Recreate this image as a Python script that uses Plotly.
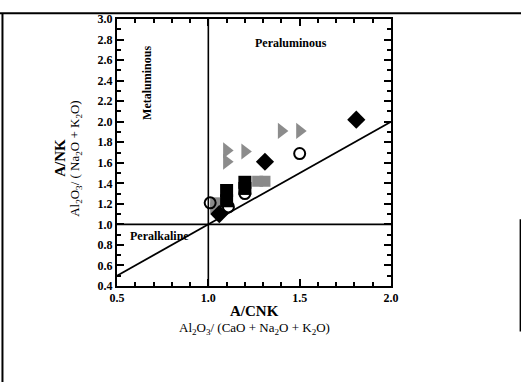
import plotly.graph_objects as go

# A/CNK vs A/NK values for each sample group
diamond_acnk = [1.06, 1.31, 1.81]
diamond_ank = [1.10, 1.61, 2.02]

triangle_acnk = [1.10, 1.10, 1.20, 1.40, 1.50]
triangle_ank = [1.72, 1.61, 1.71, 1.91, 1.91]

circle_acnk = [1.01, 1.50, 1.20, 1.11]
circle_ank = [1.21, 1.69, 1.30, 1.17]

square_acnk = [1.10, 1.10, 1.20, 1.20]
square_ank = [1.33, 1.23, 1.41, 1.35]

gray_sq_acnk = [1.04, 1.04, 1.27, 1.31]
gray_sq_ank = [1.21, 1.16, 1.42, 1.42]

# Field boundaries
x_range = [0.5, 2.0]
y_range = [0.4, 3.0]

SERIF = "Liberation Serif"

fig = go.Figure()

# boundary lines: A/CNK = 1, A/NK = 1 and A/NK = A/CNK
fig.add_trace(go.Scatter(x=[1.0, 1.0], y=y_range, mode="lines",
                         line=dict(color="black", width=1.6), hoverinfo="skip"))
fig.add_trace(go.Scatter(x=x_range, y=[1.0, 1.0], mode="lines",
                         line=dict(color="black", width=1.6), hoverinfo="skip"))
fig.add_trace(go.Scatter(x=x_range, y=x_range, mode="lines",
                         line=dict(color="black", width=1.8), hoverinfo="skip"))

fig.add_trace(go.Scatter(x=triangle_acnk, y=triangle_ank, mode="markers",
                         marker=dict(symbol="triangle-right", size=14, color="#8c8c8c",
                                     line=dict(width=0))))
fig.add_trace(go.Scatter(x=gray_sq_acnk, y=gray_sq_ank, mode="markers",
                         marker=dict(symbol="square", size=11, color="#8a8a8a",
                                     line=dict(width=0))))
fig.add_trace(go.Scatter(x=circle_acnk, y=circle_ank, mode="markers",
                         marker=dict(symbol="circle-open", size=11, color="black",
                                     line=dict(width=2))))
fig.add_trace(go.Scatter(x=square_acnk, y=square_ank, mode="markers",
                         marker=dict(symbol="square", size=13, color="black")))
fig.add_trace(go.Scatter(x=diamond_acnk, y=diamond_ank, mode="markers",
                         marker=dict(symbol="diamond", size=14, color="black")))

axis_common = dict(
    showline=True, linecolor="black", linewidth=2, mirror="ticks",
    ticks="inside", ticklen=7, tickwidth=2, tickcolor="black",
    showgrid=False, zeroline=False, tickformat=".1f",
    tickfont=dict(family=SERIF, size=12, color="black", weight="bold"),
)

fig.update_xaxes(range=x_range, dtick=0.5, tick0=0.5,
                 minor=dict(ticks="inside", dtick=0.1, ticklen=4, tickwidth=1.5,
                            tickcolor="black", showgrid=False),
                 **axis_common)
fig.update_yaxes(range=y_range, dtick=0.2, tick0=0.4,
                 minor=dict(ticks="inside", dtick=0.1, ticklen=4, tickwidth=1.5,
                            tickcolor="black", showgrid=False),
                 **axis_common)

bold = dict(family=SERIF, size=12, color="black")
annotations = [
    dict(x=1.45, y=2.77, xref="x", yref="y", text="<b>Peraluminous</b>",
         showarrow=False, font=bold),
    dict(x=0.66, y=2.38, xref="x", yref="y", text="<b>Metaluminous</b>",
         showarrow=False, textangle=-90, font=bold),
    dict(x=0.73, y=0.89, xref="x", yref="y", text="<b>Peralkaline</b>",
         showarrow=False, font=bold),
    dict(x=0.5, y=-0.13, xref="paper", yref="paper", text="<b>A/CNK</b>",
         showarrow=False, font=dict(family=SERIF, size=15, color="black")),
    dict(x=0.5, y=-0.2, xref="paper", yref="paper",
         text="Al<sub>2</sub>O<sub>3</sub>/ (CaO + Na<sub>2</sub>O + K<sub>2</sub>O)",
         showarrow=False, font=dict(family=SERIF, size=13, color="black")),
    dict(x=-0.245, y=0.48, xref="paper", yref="paper", text="<b>A/NK</b>",
         showarrow=False, textangle=-90, font=dict(family=SERIF, size=15, color="black")),
    dict(x=-0.188, y=0.48, xref="paper", yref="paper",
         text="Al<sub>2</sub>O<sub>3</sub>/ ( Na<sub>2</sub>O + K<sub>2</sub>O)",
         showarrow=False, textangle=-90, font=dict(family=SERIF, size=13, color="black")),
]

# outer frame around the figure panel
shapes = [
    dict(type="line", xref="paper", yref="paper", x0=-0.43, x1=1.48, y0=1.022, y1=1.022,
         line=dict(color="black", width=2)),
    dict(type="line", xref="paper", yref="paper", x0=-0.418, x1=-0.418, y0=1.022, y1=-0.36,
         line=dict(color="black", width=2)),
    dict(type="line", xref="paper", yref="paper", x0=1.473, x1=1.473, y0=0.25, y1=-0.17,
         line=dict(color="black", width=2)),
]

fig.update_layout(
    width=521, height=383,
    margin=dict(l=117, r=130, t=12, b=97),
    plot_bgcolor="white", paper_bgcolor="white",
    showlegend=False,
    annotations=annotations,
    shapes=shapes,
)

fig.write_html("out.html")
